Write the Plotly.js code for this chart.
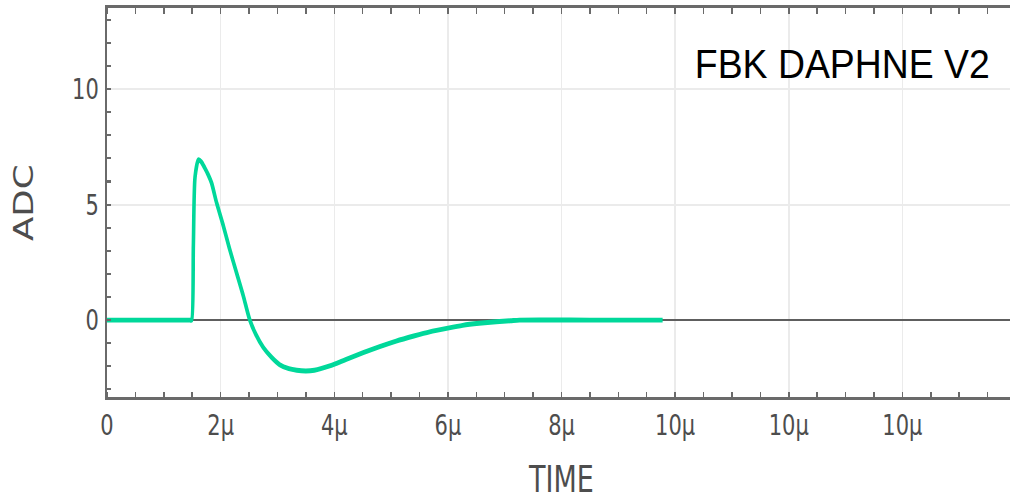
<!DOCTYPE html>
<html>
<head>
<meta charset="utf-8">
<script src="https://cdn.plot.ly/plotly-3.0.1.min.js"></script>
<style>
  html, body { margin: 0; padding: 0; background: #fff; overflow: hidden; width: 1010px; height: 500px; }
  #chart { width: 1030px; height: 365px; transform-origin: 0 0; transform: scaleY(1.36986); }
</style>
</head>
<body>
<div id="chart"></div>
<script>
// Waveform samples (time in microseconds, amplitude in ADC)
const timeUs = [0, 1.46, 1.49, 1.52, 1.55, 1.61, 1.66, 1.72, 1.78, 1.84, 1.93, 2.05, 2.16, 2.28, 2.40, 2.51, 2.62, 2.75, 2.90, 3.04, 3.20, 3.34, 3.50, 3.65, 3.92, 4.20, 4.51, 4.80, 5.09, 5.40, 5.68, 6.00, 6.26, 6.55, 6.85, 7.10, 7.26, 8.50, 9.78];
const adc    = [0, 0, 0, 3.2, 6.2, 6.94, 6.85, 6.59, 6.30, 5.94, 5.07, 4.06, 3.06, 2.05, 1.04, 0.03, -0.62, -1.18, -1.62, -1.93, -2.10, -2.17, -2.20, -2.17, -1.98, -1.71, -1.41, -1.15, -0.91, -0.69, -0.51, -0.35, -0.23, -0.14, -0.07, -0.03, 0, 0, 0];

const xTickVals = [0, 2, 4, 6, 8, 10, 12, 14];
const xTickText = ['0', '2µ', '4µ', '6µ', '8µ', '10µ', '10µ', '10µ'];
const yTickVals = [0, 5, 10];
const yTickText = ['0', '5', '10'];
const xRange = [0, 16];
const yRange = [-3.34, 13.5];
const label = 'FBK DAPHNE V2';

const tickFont = { family: 'DejaVu Sans, Verdana, sans-serif', size: 21, color: '#4d4d4d' };

const trace = {
  x: timeUs,
  y: adc,
  type: 'scatter',
  mode: 'lines',
  line: { color: '#00d89a', width: 3.6, shape: 'spline', smoothing: 0.7 },
  hoverinfo: 'skip'
};

const layout = {
  width: 1030,
  height: 365,
  margin: { l: 107, r: 14, t: 6, b: 75 },
  paper_bgcolor: '#ffffff',
  plot_bgcolor: '#ffffff',
  showlegend: false,
  xaxis: {
    range: xRange,
    tickmode: 'array',
    tickvals: xTickVals,
    ticktext: xTickText,
    ticks: '',
    tickfont: tickFont,
    showgrid: true,
    gridcolor: '#ebebeb',
    gridwidth: 1.5,
    zeroline: false,
    showline: true,
    linecolor: '#6a6a6a',
    linewidth: 2,
    mirror: 'ticks',
    minor: { tickmode: 'linear', tick0: 0, dtick: 0.5, ticks: 'inside', ticklen: 4, tickwidth: 1.5, tickcolor: '#6a6a6a', showgrid: false },
    title: { text: 'TIME', font: { family: 'DejaVu Sans, Verdana, sans-serif', size: 27, color: '#4d4d4d' }, standoff: 21 },
    fixedrange: true
  },
  yaxis: {
    range: yRange,
    tickmode: 'array',
    tickvals: yTickVals,
    ticktext: yTickText,
    ticks: '',
    ticklabelstandoff: 2,
    tickfont: tickFont,
    showgrid: true,
    gridcolor: '#ebebeb',
    gridwidth: 1.5,
    zeroline: true,
    zerolinecolor: '#5e5e5e',
    zerolinewidth: 1.6,
    showline: true,
    linecolor: '#6a6a6a',
    linewidth: 2,
    mirror: 'ticks',
    minor: { tickmode: 'linear', tick0: 0, dtick: 1, ticks: 'inside', ticklen: 4, tickwidth: 1.5, tickcolor: '#6a6a6a', showgrid: false },
    title: { text: 'ADC', font: { family: 'DejaVu Sans, Verdana, sans-serif', size: 26, color: '#4d4d4d' }, standoff: 31 },
    fixedrange: true
  },
  annotations: [{
    text: label,
    xref: 'paper', yref: 'paper',
    x: 0.9736, y: 0.857,
    xanchor: 'right', yanchor: 'middle',
    showarrow: false,
    font: { family: 'Liberation Sans, Arial, sans-serif', size: 29, color: '#000000' }
  }]
};

Plotly.newPlot('chart', [trace], layout, { displayModeBar: false, staticPlot: true }).then(function (gd) {
  // widen the label text to the reference's spacing (the chart is stretched only vertically)
  const t = gd.querySelector('.annotation-text');
  if (t && t.getComputedTextLength) {
    const w = t.getComputedTextLength();
    const target = 295;
    const anchorX = parseFloat(t.getAttribute('x'));
    t.setAttribute('textLength', target);
    t.setAttribute('lengthAdjust', 'spacingAndGlyphs');
    // keep right edge fixed
    t.setAttribute('x', anchorX - (target - w) / 2);
  }
});
</script>
</body>
</html>
